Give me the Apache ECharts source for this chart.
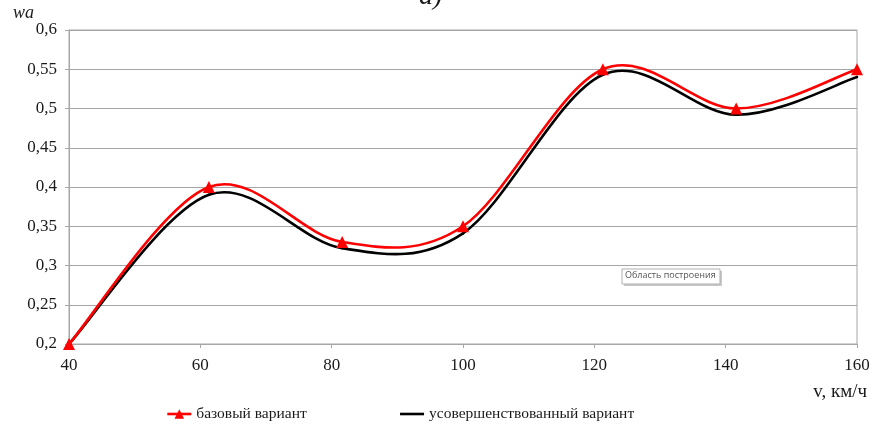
<!DOCTYPE html>
<html>
<head>
<meta charset="utf-8">
<script src="https://cdn.jsdelivr.net/npm/echarts@6/dist/echarts.min.js"></script>
<style>
  html, body { margin: 0; padding: 0; background: #fff; }
  #chart { width: 874px; height: 433px; }
</style>
</head>
<body>
<div id="chart"></div>
<script>
// Speed, km/h
const speeds = [40, 61.3, 81.6, 100, 121.3, 141.6, 160];
// Coefficient wa for the base design
const baseValues = [0.2, 0.4, 0.33, 0.35, 0.55, 0.5, 0.55];
// Coefficient wa for the improved design
const improvedValues = [0.2, 0.39, 0.322, 0.341, 0.543, 0.492, 0.54];
const seriesNames = ['базовый вариант', 'усовершенствованный вариант'];
const xTicks = { min: 40, max: 160, step: 20 };
const yTicks = { min: 0.2, max: 0.6, step: 0.05 };

const serif = '"Liberation Serif", "DejaVu Serif", serif';
const pairs = (xs, ys) => xs.map((x, i) => [x, ys[i]]);
const baseData = pairs(speeds, baseValues);
const improvedData = pairs(speeds, improvedValues);

// Smoothed curve: one cubic Bezier per data interval (Catmull-Rom style
// tangents), with every control point derived from the data in pixel space.
function splineSeries(name, data, color, z) {
  return {
    name: name,
    type: 'custom',
    data: data,
    encode: { x: 0, y: 1 },
    z: z,
    silent: true,
    renderItem: function (params, api) {
      const i = params.dataIndex;
      const n = data.length;
      if (i >= n - 1) return null;
      const p = data.map(d => api.coord(d));
      const p0 = p[Math.max(i - 1, 0)];
      const p1 = p[i];
      const p2 = p[i + 1];
      const p3 = p[Math.min(i + 2, n - 1)];
      return {
        type: 'bezierCurve',
        shape: {
          x1: p1[0], y1: p1[1],
          cpx1: p1[0] + (p2[0] - p0[0]) / 6, cpy1: p1[1] + (p2[1] - p0[1]) / 6,
          cpx2: p2[0] - (p3[0] - p1[0]) / 6, cpy2: p2[1] - (p3[1] - p1[1]) / 6,
          x2: p2[0], y2: p2[1]
        },
        style: { stroke: color, fill: null, lineWidth: 2.6, lineCap: 'round' }
      };
    }
  };
}

const chart = echarts.init(document.getElementById('chart'), null, { renderer: 'canvas' });
chart.setOption({
  animation: false,
  backgroundColor: '#ffffff',
  grid: {
    left: 69, right: 17, top: 30, bottom: 89,
    show: true, borderColor: '#a6a6a6', borderWidth: 1
  },
  xAxis: {
    type: 'value',
    min: xTicks.min, max: xTicks.max, interval: xTicks.step,
    axisLine: { show: true, lineStyle: { color: '#a6a6a6', width: 1 } },
    axisTick: { show: true, length: 4, inside: false, lineStyle: { color: '#a6a6a6' } },
    splitLine: { show: false },
    axisLabel: { color: '#1a1a1a', fontFamily: serif, fontSize: 17, margin: 13 }
  },
  yAxis: {
    type: 'value',
    min: yTicks.min, max: yTicks.max, interval: yTicks.step,
    axisLine: { show: true, lineStyle: { color: '#a6a6a6', width: 1 } },
    axisTick: { show: true, length: 4, lineStyle: { color: '#a6a6a6' } },
    splitLine: { show: true, lineStyle: { color: '#a6a6a6', width: 1 } },
    axisLabel: {
      color: '#1a1a1a', fontFamily: serif, fontSize: 17, margin: 12,
      formatter: v => String(+v.toFixed(2)).replace('.', ',')
    }
  },
  legend: {
    left: 166, top: 406, padding: 0,
    itemWidth: 24, itemHeight: 12, itemGap: 92,
    textStyle: { color: '#1a1a1a', fontFamily: serif, fontSize: 15.5 },
    data: [
      { name: seriesNames[0], lineStyle: { color: '#ff0000', width: 2.6, opacity: 1 } },
      { name: seriesNames[1], lineStyle: { color: '#000000', width: 2.6, opacity: 1 },
        itemStyle: { opacity: 0 } }
    ]
  },
  series: [
    {
      // markers of the base design (the curve itself is the spline below)
      name: seriesNames[0],
      type: 'line',
      data: baseData,
      symbol: 'triangle',
      symbolSize: 12,
      showAllSymbol: true,
      lineStyle: { color: '#ff0000', width: 2.6, opacity: 0 },
      itemStyle: { color: '#ff0000' },
      z: 5
    },
    {
      name: seriesNames[1],
      type: 'line',
      data: improvedData,
      symbol: 'none',
      lineStyle: { color: '#000000', width: 2.6, opacity: 0 },
      itemStyle: { color: '#000000' },
      z: 1
    },
    splineSeries(seriesNames[1], improvedData, '#000000', 2),
    splineSeries(seriesNames[0], baseData, '#ff0000', 3)
  ],
  graphic: [
    { type: 'text', left: 13, top: 4,
      style: { text: 'wa', fill: '#1a1a1a', font: 'italic 18px ' + serif } },
    { type: 'text', left: 419, top: -17,
      style: { text: 'а)', fill: '#1a1a1a', font: 'italic 28px ' + serif } },
    { type: 'text', right: 7, top: 383,
      style: { text: 'v, км/ч', fill: '#1a1a1a', font: '19px ' + serif } },
    { type: 'rect', shape: { x: 624, y: 271, width: 98, height: 15 },
      style: { fill: '#c8c8c8' }, z: 10 },
    { type: 'rect', shape: { x: 622, y: 269, width: 98, height: 15 },
      style: { fill: '#ffffff', stroke: '#b0b0b0', lineWidth: 1 }, z: 11 },
    { type: 'text', x: 625, y: 271, z: 12,
      style: { text: 'Область построения', fill: '#555555', font: '9px "Open Sans", sans-serif' } }
  ]
});
</script>
</body>
</html>
